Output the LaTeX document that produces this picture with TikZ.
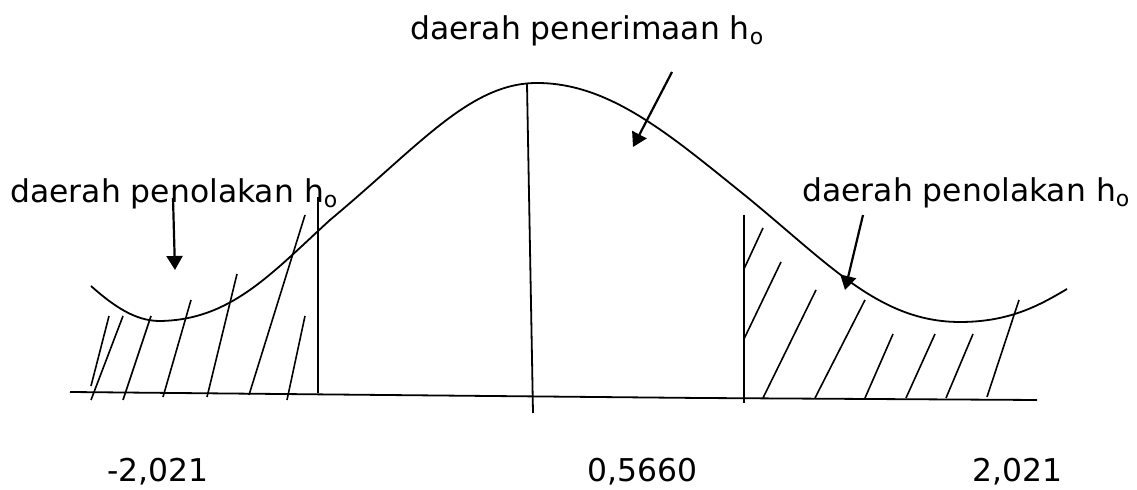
\documentclass[tikz,border=0pt]{standalone}
\usepackage{fontspec}
\setmainfont{DejaVu Sans}
\usetikzlibrary{arrows.meta}

\begin{document}
\begin{tikzpicture}[
  x=0.5pt, y=-0.5pt,
  font=\fontsize{15.7}{18}\selectfont,
  lbl/.style={anchor=base west, inner sep=0pt},
  hatch/.style={line width=0.8pt},
  bound/.style={line width=0.9pt},
  arrow/.style={-{Triangle[length=7pt,width=8pt]}, line width=1.1pt}
]
\useasboundingbox (0,0) rectangle (1137,490);

\node[lbl] (accept) at (410,40) {daerah penerimaan h\textsubscript{o}};
\node[lbl] (rejL) at (10,203) {daerah penolakan h\textsubscript{o}};
\node[lbl] (rejR) at (802,202) {daerah penolakan h\textsubscript{o}};
\node[lbl] (critL) at (107,482) {-2,021};
\node[lbl] (mean) at (587,482) {0,5660};
\node[lbl] (critR) at (972,482) {2,021};

\draw[bound] (70,392) -- (700,398) -- (1037,400);
\draw[bound] (91,286) .. controls (120,312) and (140,321) .. (160,321)
  .. controls (230,320) and (270,275) .. (330,220)
  .. controls (420,145) and (470,83) .. (537,83)
  .. controls (610,83) and (670,135) .. (747,197)
  .. controls (830,265) and (880,322) .. (960,322)
  .. controls (1010,322) and (1040,305) .. (1067,289);

\draw[bound] (318,197) -- (318,393);
\draw[bound] (527,84) -- (533,413);
\draw[bound] (744,215) -- (744,403);

\foreach \a/\b/\c/\d in {91/386/109/316, 91/400/123/316, 123/400/151/316, 163/397/191/300,
  207/397/237/274, 249/395/305/215, 287/400/305/316}
  \draw[hatch] (\a,\b) -- (\c,\d);
\foreach \a/\b/\c/\d in {744/269/763/228, 744/339/781/262, 763/398/816/290, 815/398/865/300,
  865/398/893/334, 906/398/935/334, 946/398/973/334, 987/397/1019/300}
  \draw[hatch] (\a,\b) -- (\c,\d);

\coordinate (rejLtail) at (173,198);
\coordinate (rejLhead) at (175,270);
\coordinate (acctail) at (672,72);
\coordinate (acchead) at (633,147);
\coordinate (rejRtail) at (863,215);
\coordinate (rejRhead) at (845,290);
\draw[arrow] (rejLtail) -- (rejLhead);
\draw[arrow] (acctail) -- (acchead);
\draw[arrow] (rejRtail) -- (rejRhead);
\end{tikzpicture}
\end{document}
